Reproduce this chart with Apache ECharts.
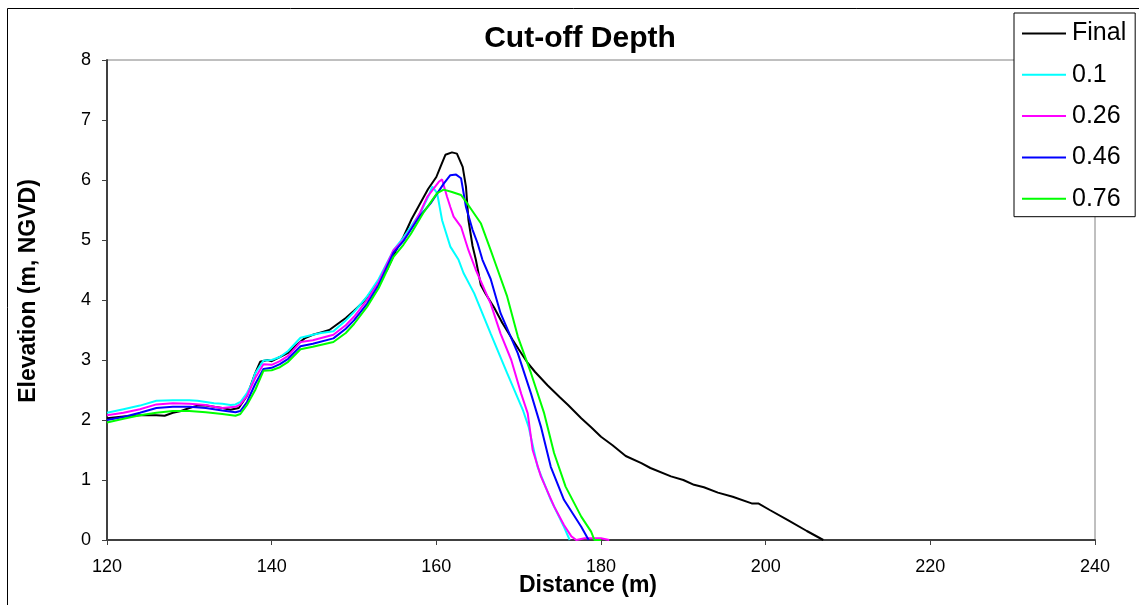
<!DOCTYPE html>
<html>
<head>
<meta charset="utf-8">
<script src="https://cdn.jsdelivr.net/npm/echarts@6/dist/echarts.min.js"></script>
<style>html,body{margin:0;padding:0;background:#fff}#c{width:1139px;height:605px}</style>
</head>
<body>
<div id="c"></div>
<script>
const titleText = "Cut-off Depth";
const xAxisName = "Distance (m)";
const yAxisName = "Elevation (m, NGVD)";
const seriesNames = ["Final", "0.1", "0.26", "0.46", "0.76"];
const seriesColors = ["#000000", "#00FFFF", "#FF00FF", "#0000FF", "#00FF00"];

const finalData = [[120,2.03],[122,2.06],[124,2.08],[126,2.08],[127,2.07],[128,2.12],[129,2.15],[130,2.2],[131,2.24],[132,2.24],[133,2.22],[134,2.2],[135,2.17],[136,2.2],[137,2.4],[138,2.78],[138.6,2.97],[139.5,3.0],[140,2.98],[141,3.05],[142,3.12],[143,3.25],[144,3.36],[145,3.42],[146,3.46],[147,3.5],[148,3.6],[149,3.7],[150,3.82],[151,3.95],[152,4.12],[153,4.3],[154,4.5],[155,4.8],[156,5.05],[157,5.35],[158,5.6],[159,5.85],[160,6.05],[160.5,6.22],[161.1,6.42],[161.9,6.46],[162.5,6.44],[163.2,6.22],[163.6,5.89],[163.9,5.33],[164.4,4.9],[164.8,4.67],[165.4,4.25],[166,4.1],[167,3.88],[168,3.62],[169.3,3.33],[170,3.18],[171.1,2.95],[172,2.8],[173.5,2.58],[175,2.38],[176,2.25],[177.6,2.03],[178.8,1.88],[180,1.72],[181.4,1.58],[183,1.4],[184.9,1.28],[186,1.2],[188.5,1.06],[190,1.0],[191.3,0.92],[192.5,0.88],[194.2,0.79],[196,0.72],[198.3,0.61],[199.1,0.61],[200.5,0.5],[202.7,0.33],[205,0.15],[207,0]];
const cut010Data = [[120,2.12],[121,2.15],[122,2.18],[124,2.24],[126,2.32],[128,2.33],[130,2.33],[131,2.32],[132,2.3],[133,2.28],[134,2.27],[135,2.25],[135.6,2.26],[136.2,2.3],[137,2.45],[137.5,2.58],[138,2.78],[139,2.99],[140,3.0],[141,3.05],[142,3.15],[143.5,3.37],[145,3.42],[146,3.45],[147.5,3.48],[149,3.66],[150,3.8],[151.6,4.06],[153,4.35],[154.8,4.83],[156,5.04],[157,5.24],[158.1,5.46],[159.1,5.75],[159.5,5.89],[160.1,5.78],[160.7,5.33],[161.7,4.89],[162.7,4.67],[163.3,4.45],[164.6,4.11],[166.6,3.44],[168.6,2.78],[170.5,2.17],[171.2,1.89],[172.3,1.22],[173.9,0.67],[175.5,0.22],[176.2,0]];
const cut026Data = [[120,2.08],[122,2.12],[124,2.18],[126,2.26],[128,2.28],[130,2.27],[132,2.25],[133,2.22],[134,2.2],[135.6,2.22],[136.2,2.26],[137,2.4],[138,2.7],[139,2.93],[140,2.92],[141,2.98],[142,3.07],[143.5,3.3],[145,3.33],[147.5,3.42],[149,3.58],[150,3.72],[151.6,4.0],[153,4.3],[154.8,4.83],[156,5.0],[157,5.2],[158,5.45],[158.9,5.72],[160.3,5.97],[160.7,6.01],[161.3,5.72],[161.7,5.55],[162.1,5.39],[163,5.22],[163.9,4.83],[164.8,4.5],[166.6,3.94],[167.8,3.44],[169.1,3.0],[170.3,2.44],[171.1,2.11],[171.7,1.5],[172.7,1.06],[174.3,0.56],[175.5,0.25],[176.4,0.06],[177,0],[178,0.03],[180,0.03],[181,0]];
const cut046Data = [[120,2.0],[122,2.05],[124,2.12],[126,2.2],[128,2.22],[130,2.22],[132,2.2],[134,2.16],[135.6,2.13],[136.2,2.15],[137,2.3],[138,2.6],[139,2.85],[140,2.87],[141,2.93],[142,3.02],[143.5,3.23],[145,3.27],[147.5,3.36],[149,3.52],[150,3.66],[151.6,3.94],[153,4.25],[154.8,4.79],[156,4.98],[156.9,5.17],[158,5.4],[159.3,5.61],[160.9,5.94],[161.7,6.08],[162.4,6.09],[163,6.03],[163.6,5.55],[164.4,5.17],[165,4.95],[165.6,4.67],[166.6,4.35],[167.8,3.78],[169.9,3.11],[171.5,2.44],[172.7,1.89],[173.9,1.22],[175.5,0.67],[177.6,0.22],[178.5,0]];
const cut076Data = [[120,1.96],[122,2.02],[124,2.08],[126,2.12],[128,2.15],[130,2.15],[132,2.13],[134,2.1],[135.6,2.07],[136.2,2.1],[137,2.25],[138,2.5],[139,2.82],[140,2.83],[141,2.88],[142,2.97],[143.5,3.18],[145,3.22],[147.5,3.3],[149,3.45],[150,3.6],[151.6,3.89],[153,4.2],[154.8,4.72],[156,4.92],[156.9,5.1],[158.5,5.47],[160.1,5.78],[160.9,5.84],[161.9,5.8],[163,5.75],[163.9,5.58],[165.4,5.28],[166.6,4.83],[167.2,4.6],[168.6,4.06],[169.9,3.39],[171.5,2.78],[173.1,2.11],[174.3,1.45],[175.7,0.89],[177.6,0.39],[178.8,0.14],[179.2,0],[180,0]];

const xTicks = {min: 120, max: 240, interval: 20};
const yTicks = {min: 0, max: 8, interval: 1};
const allData = [finalData, cut010Data, cut026Data, cut046Data, cut076Data];

const chart = echarts.init(document.getElementById('c'), null, {renderer: 'canvas'});
const font = 'Liberation Sans, Arial, sans-serif';
chart.setOption({
  animation: false,
  backgroundColor: '#ffffff',
  title: {
    text: titleText, left: 575, top: 19, textAlign: 'center',
    textStyle: {fontFamily: font, fontSize: 30, fontWeight: 'bold', color: '#000'}
  },
  grid: {left: 107, top: 60, right: 44, bottom: 65, show: true, borderColor: '#808080', borderWidth: 1,
         backgroundColor: 'transparent', containLabel: false, outerBoundsMode: 'none'},
  xAxis: {
    type: 'value', min: xTicks.min, max: xTicks.max, interval: xTicks.interval,
    name: xAxisName, nameLocation: 'middle', nameGap: 34, nameMoveOverlap: false,
    nameTextStyle: {fontFamily: font, fontSize: 23, fontWeight: 'bold', color: '#000', padding: [0, 26, 0, 0]},
    axisLine: {lineStyle: {color: '#404040', width: 2}},
    axisTick: {show: true, length: 5, lineStyle: {color: '#404040'}},
    axisLabel: {fontFamily: font, fontSize: 18, color: '#000', margin: 18},
    splitLine: {show: false}
  },
  yAxis: {
    type: 'value', min: yTicks.min, max: yTicks.max, interval: yTicks.interval,
    name: yAxisName, nameLocation: 'middle', nameGap: 67, nameRotate: 90, nameMoveOverlap: false,
    nameTextStyle: {fontFamily: font, fontSize: 23, fontWeight: 'bold', color: '#000', padding: [0, 0, 0, 18]},
    axisLine: {show: true, lineStyle: {color: '#404040', width: 2}},
    axisTick: {show: true, length: 5, lineStyle: {color: '#404040'}},
    axisLabel: {fontFamily: font, fontSize: 18, color: '#000', margin: 16},
    splitLine: {show: false}
  },
  legend: {
    orient: 'vertical', left: 1014, top: 13,
    padding: [8, 9, 5.5, 8], itemGap: 16.3, itemWidth: 44, itemHeight: 2,
    backgroundColor: '#fff', borderColor: '#000', borderWidth: 1,
    textStyle: {fontFamily: font, fontSize: 25, lineHeight: 25, color: '#000', padding: [0, 0, 0, 1]},
    data: seriesNames.map((n, i) => ({name: n, icon: 'rect', itemStyle: {color: seriesColors[i]}}))
  },
  graphic: [{
    type: 'rect', shape: {x: 7.5, y: 8.5, width: 1200, height: 700},
    style: {fill: 'none', stroke: '#000', lineWidth: 1}, silent: true, z: 100
  }],
  series: allData.map((d, i) => ({
    name: seriesNames[i], type: 'line', data: d, showSymbol: false, symbol: 'none',
    lineStyle: {color: seriesColors[i], width: 2}, itemStyle: {color: seriesColors[i]},
    clip: true
  }))
});
</script>
</body>
</html>
